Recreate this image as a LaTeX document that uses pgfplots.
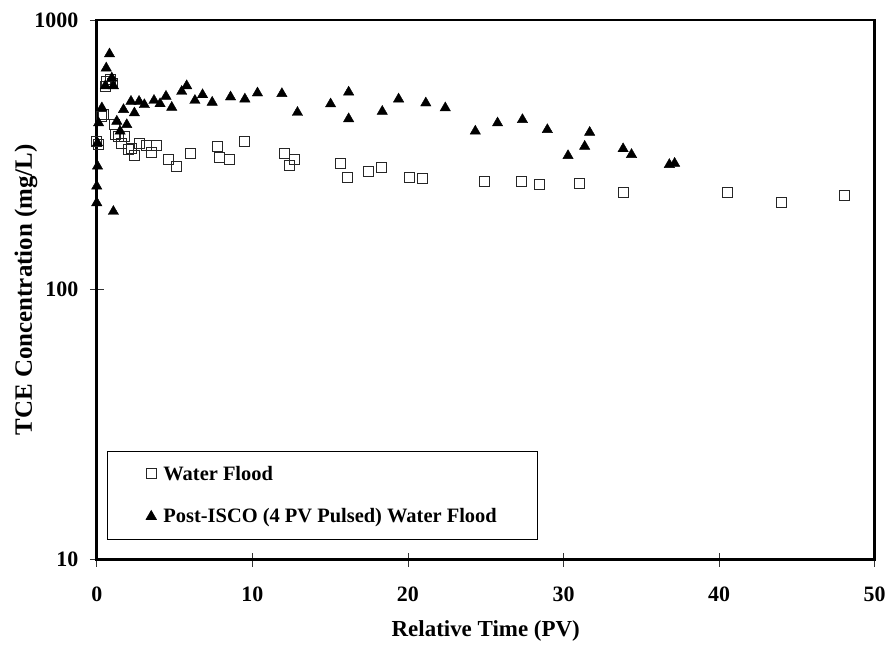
\documentclass[border=0pt]{standalone}
\usepackage{fontspec}
\setmainfont{Liberation Serif}
\usepackage{pgfplots}
\pgfplotsset{compat=1.18}
\begin{document}
\begin{tikzpicture}
\begin{axis}[
  scale only axis,
  width=780pt, height=541pt,
  xmin=0, xmax=50, ymin=10, ymax=1000,
  ymode=log,
  xtick={0,10,20,30,40,50},
  ytick={10,100,1000},
  yticklabels={10,100,1000},
  yminorticks=false,
  xtick pos=bottom, ytick pos=left,
  axis line style={line width=2.6pt},
  tick style={line width=0.7pt, black!80},
  tick align=center,
  major tick length=14pt,
  /pgf/number format/assume math mode=true,
  ticklabel style={font=\bfseries\fontsize{22}{22}\selectfont},
  xticklabel style={yshift=-17pt},
  yticklabel style={xshift=-8pt},
  xlabel={Relative Time (PV)},
  ylabel={TCE Concentration (mg/L)},
  xlabel style={font=\bfseries\fontsize{23}{23}\selectfont, at={(rel axis cs:0.5,0)}, anchor=base, yshift=-77pt},
  ylabel style={font=\bfseries\fontsize{25}{25}\selectfont, at={(rel axis cs:0,0.5)}, anchor=base, yshift=65pt},
  legend style={at={(rel axis cs:0.013,0.037)}, anchor=south west, draw=black, line width=0.6pt,
    inner xsep=39pt, inner ysep=13pt, row sep=23pt, column sep=5pt,
    nodes={inner sep=2pt},
    font=\bfseries\fontsize{20.5}{20.5}\selectfont},
  legend cell align=left,
  legend image code/.code={\draw[#1] plot coordinates {(0.15cm,0cm)};},
  clip=false,
]
\addplot[only marks, mark=square, mark size=5pt, draw=black!85, line width=0.8pt] coordinates {
(0,355) (0.1,345) (0.33,440) (0.44,445) (0.55,565) (0.65,592) (0.9,600) (1.0,580)
(1.14,409) (1.18,376) (1.4,370) (1.57,350) (1.8,370) (2.04,331) (2.2,335) (2.4,315)
(2.74,350) (3.2,342) (3.53,322) (3.85,342) (4.62,303) (5.14,286) (6.0,320) (7.74,340)
(7.9,310) (8.55,304) (9.47,355) (12.04,320) (12.36,289) (12.68,304) (15.68,294) (16.14,261)
(17.49,275) (18.28,284) (20.1,261) (20.9,258) (24.9,253) (27.3,253) (28.43,245) (30.99,247)
(33.87,229) (40.54,230) (44.0,211) (48.06,224)
};
\addlegendentry{Water Flood}
\addplot[only marks, mark=triangle*, mark size=6pt, black] coordinates {
(0,210) (0,242) (0.05,287) (0.05,350) (0.12,415) (0.33,472) (0.55,570) (0.61,663)
(0.82,748) (0.97,609) (1.07,570) (1.07,195) (1.29,421) (1.5,387) (1.72,465) (1.93,409)
(2.2,499) (2.42,452) (2.72,499) (3.06,485) (3.68,503) (4.07,489) (4.45,521) (4.82,474)
(5.46,543) (5.78,570) (6.31,503) (6.8,528) (7.42,495) (8.6,518) (9.52,509) (10.33,536)
(11.9,533) (12.9,454) (15.03,488) (16.19,540) (16.19,430) (18.35,458) (19.4,509) (21.15,492)
(22.4,472) (24.33,387) (25.76,415) (27.36,427) (28.96,392) (30.29,314) (31.36,340) (31.68,383)
(33.83,333) (34.37,317) (36.8,291) (37.14,294)
};
\addlegendentry{Post-ISCO (4 PV Pulsed) Water Flood}
\end{axis}
\path (current axis.south west) ++(-97pt,-82pt) rectangle ++(889pt,643pt);
\end{tikzpicture}
\end{document}
